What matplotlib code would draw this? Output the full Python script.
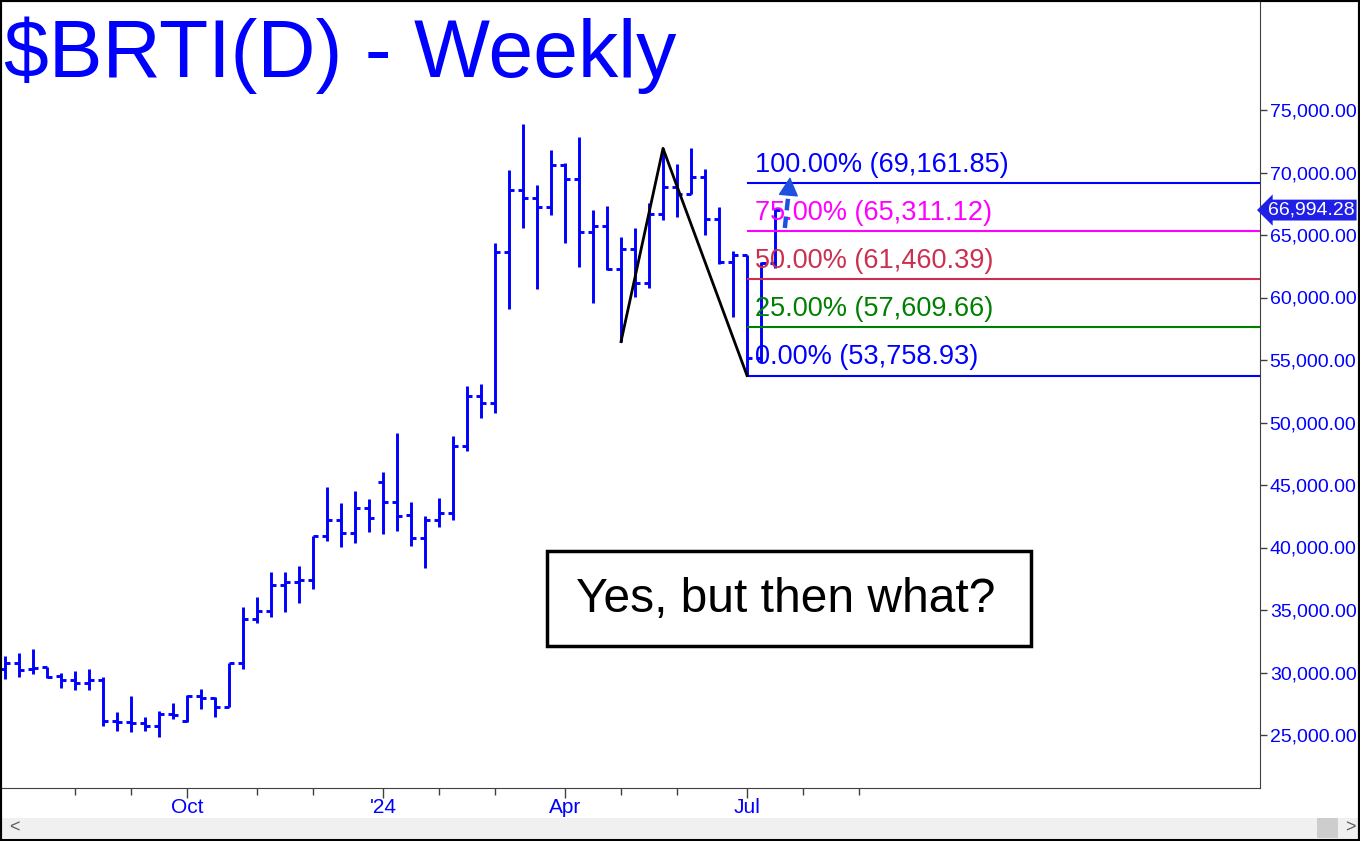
import numpy as np
import pandas as pd
import matplotlib
matplotlib.use('Agg')
import matplotlib.pyplot as plt
from matplotlib.patches import Rectangle
from matplotlib.transforms import blended_transform_factory

plt.rcParams['font.family'] = ['Liberation Sans', 'DejaVu Sans']

W, H = 1360, 841

# weekly bars, first one is the week of 26 Jun 2023
first_week = '2023-06-26'
opens = [30250, 30790, 30250, 30410, 29720, 29400, 29130, 29400, 26150, 26010,
         25930, 25720, 26680, 26120, 28120, 27990, 27210, 30790, 34300, 34920,
         37000, 37210, 37400, 40920, 42200, 41130, 43130, 45270, 43610, 42600,
         40790, 42200, 42730, 48120, 52120, 51530, 63670, 68600, 67930, 67270,
         70600, 69450, 65210, 65720, 62250, 63880, 61130, 66650, 68810, 68250,
         69610, 66250, 62810, 63400, 55130, 62730]
highs = [31320, 31530, 31850, 30470, 29930, 30120, 30250, 29670, 26870, 28150,
         26470, 26920, 27530, 28200, 28650, 28070, 30790, 35270, 36010, 38010,
         38010, 38520, 40920, 44810, 43530, 44520, 43850, 46010, 49130, 43610,
         42550, 43930, 48920, 52920, 53050, 64330, 70200, 73880, 69000, 71800,
         70730, 72810, 67000, 67320, 64870, 65590, 67530, 71930, 70650, 71990,
         70250, 67270, 63720, 63400, 62870, 67100]
lows = [29450, 29670, 29880, 29530, 28730, 28600, 28600, 25720, 25320, 25210,
        25320, 24810, 26250, 26070, 27050, 26410, 27210, 30250, 33950, 34410,
        34810, 35530, 36650, 40520, 40070, 40390, 41210, 41050, 41350, 40150,
        38390, 41670, 42200, 47700, 50390, 50790, 59080, 65530, 60680, 66600,
        64390, 62470, 59530, 62200, 56470, 60070, 60730, 66200, 66470, 68250,
        65000, 62650, 58470, 53760, 54870, 62330]
closes = [30790, 30200, 30330, 29670, 29400, 29130, 29400, 26150, 26070, 25930,
          25720, 26680, 26600, 28120, 27930, 27210, 30790, 34300, 34920, 37000,
          37210, 37400, 40920, 42200, 41130, 43130, 42330, 43610, 42550, 40790,
          42200, 42730, 48120, 52150, 51530, 63670, 68600, 67930, 67270, 70600,
          69450, 65210, 65720, 62250, 63880, 61130, 66650, 68810, 68250, 69610,
          66250, 62810, 63400, 55130, 62730, 66994.28]

last_price = 66994.28

# projection levels
fib_low = 53758.93
fib_high = 69161.85
fib_pcts = [0.0, 0.25, 0.50, 0.75, 1.0]
fib_colors = ['#0000ff', '#008000', '#cc2f4f', '#ff00ff', '#0000ff']
fib_start = 53

# A-B-C swing drawn in black
swing_idx = [44, 47, 53]
swing_val = [56470, 71930, 53758.93]

# dashed target arrow: tail, head base, tip
arrow_x = [55.7, 55.98, 56.07]
arrow_y = [65560, 68500, 69640]

yticks = [25000, 30000, 35000, 40000, 45000, 50000, 55000, 60000, 65000, 70000, 75000]
title = '$BRTI(D) - Weekly'
note = 'Yes, but then what?'

BLUE = '#0000ff'


def fx(px):
    return px / W


def fy(py):
    return 1 - py / H


fig = plt.figure(figsize=(W / 100, H / 100), dpi=100)
ax = fig.add_axes([fx(2), fy(788), fx(1260) - fx(2), fy(2) - fy(788)])
ax.set_xlim(-0.214, 89.64)
ax.set_ylim(20760, 83640)

# OHLC bars
x = np.arange(len(opens))
ax.vlines(x, lows, highs, color=BLUE, lw=2.1)
ax.hlines(opens, x - 0.38, x, color=BLUE, lw=2.1)
ax.hlines(closes, x, x + 0.38, color=BLUE, lw=2.1)

# fib levels + labels
rng = fib_high - fib_low
for p, c in zip(fib_pcts, fib_colors):
    lvl = fib_low + p * rng
    ax.hlines(lvl, fib_start, 89.64, color=c, lw=1.5)
    ax.text(fib_start + 0.6, lvl + 1450, '%.2f%% (%s)' % (p * 100, f'{lvl:,.2f}'),
            color=c, fontsize=19.5, va='center', ha='left')

ax.plot(swing_idx, swing_val, color='black', lw=2.0, zorder=3)

# arrow: dashed shaft + solid head
ax.plot(arrow_x[:2], arrow_y[:2], color='#2050e0', lw=3.2,
        dashes=(2.6, 1.4), solid_capstyle='butt', zorder=4)
ax.annotate('', xy=(arrow_x[2], arrow_y[2]), xytext=(arrow_x[1], arrow_y[1]),
            arrowprops=dict(arrowstyle='-|>,head_length=0.75,head_width=0.4',
                            color='#2050e0', lw=1, mutation_scale=16,
                            shrinkA=0, shrinkB=0), zorder=4)

# right price axis
ax.yaxis.tick_right()
ax.set_yticks(yticks)
ax.set_yticklabels([f'{v:,.2f}' for v in yticks])
ax.tick_params(axis='y', colors='#404040', labelcolor=BLUE, labelsize=14,
               length=5, width=1, pad=2)

# month ticks: the week holding the 1st of the month
weeks = pd.date_range(first_week, periods=62, freq='7D')
major_pos, major_lab, minor_pos = [], [], []
for i, d in enumerate(weeks):
    if i == 0:
        continue
    end = d + pd.Timedelta(days=6)
    if end.day <= 7:
        if end.month in (1, 4, 7, 10):
            major_pos.append(i)
            major_lab.append("'" + end.strftime('%y') if end.month == 1 else end.strftime('%b'))
        else:
            minor_pos.append(i)
ax.set_xticks(major_pos)
ax.set_xticklabels(major_lab)
ax.set_xticks(minor_pos, minor=True)
ax.tick_params(axis='x', which='major', colors='#404040', labelcolor=BLUE,
               labelsize=15, length=7, width=1, pad=0)
ax.tick_params(axis='x', which='minor', colors='#404040', length=5, width=1)

for s in ['top', 'left']:
    ax.spines[s].set_visible(False)
for s in ['right', 'bottom']:
    ax.spines[s].set_color('#404040')

# last price tag
tr = blended_transform_factory(fig.transFigure, ax.transData)
ax.text(fx(1268), last_price, f'{last_price:,.2f}', transform=tr, color='white',
        fontsize=14, ha='left', va='center', clip_on=False,
        bbox=dict(boxstyle='larrow,pad=0.1', fc='#1f1fe8', ec='none'))

# title and note box
fig.text(fx(4), fy(77), title, fontsize=58, color=BLUE, va='baseline', ha='left')
fig.add_artist(Rectangle((fx(547), fy(646)), fx(1031) - fx(547), fy(551) - fy(646),
                         transform=fig.transFigure, fc='white', ec='black', lw=2.5))
fig.text(fx(786), fy(600), note, fontsize=34.5, color='black', ha='center', va='center')

# scrollbar at the bottom
fig.add_artist(Rectangle((fx(2), fy(838)), fx(1358) - fx(2), fy(818) - fy(838),
                         transform=fig.transFigure, fc='#f0f0f0', ec='none'))
fig.add_artist(Rectangle((fx(1317), fy(838)), fx(1338) - fx(1317), fy(818) - fy(838),
                         transform=fig.transFigure, fc='#cdcdcd', ec='none'))
fig.text(fx(9), fy(828), '<', fontsize=13, color='#606060', va='center')
fig.text(fx(1345), fy(828), '>', fontsize=13, color='#606060', va='center')

fig.add_artist(Rectangle((0, 0), 1, 1, transform=fig.transFigure, fill=False,
                         ec='black', lw=3))

fig.savefig('out.png', dpi=100)
